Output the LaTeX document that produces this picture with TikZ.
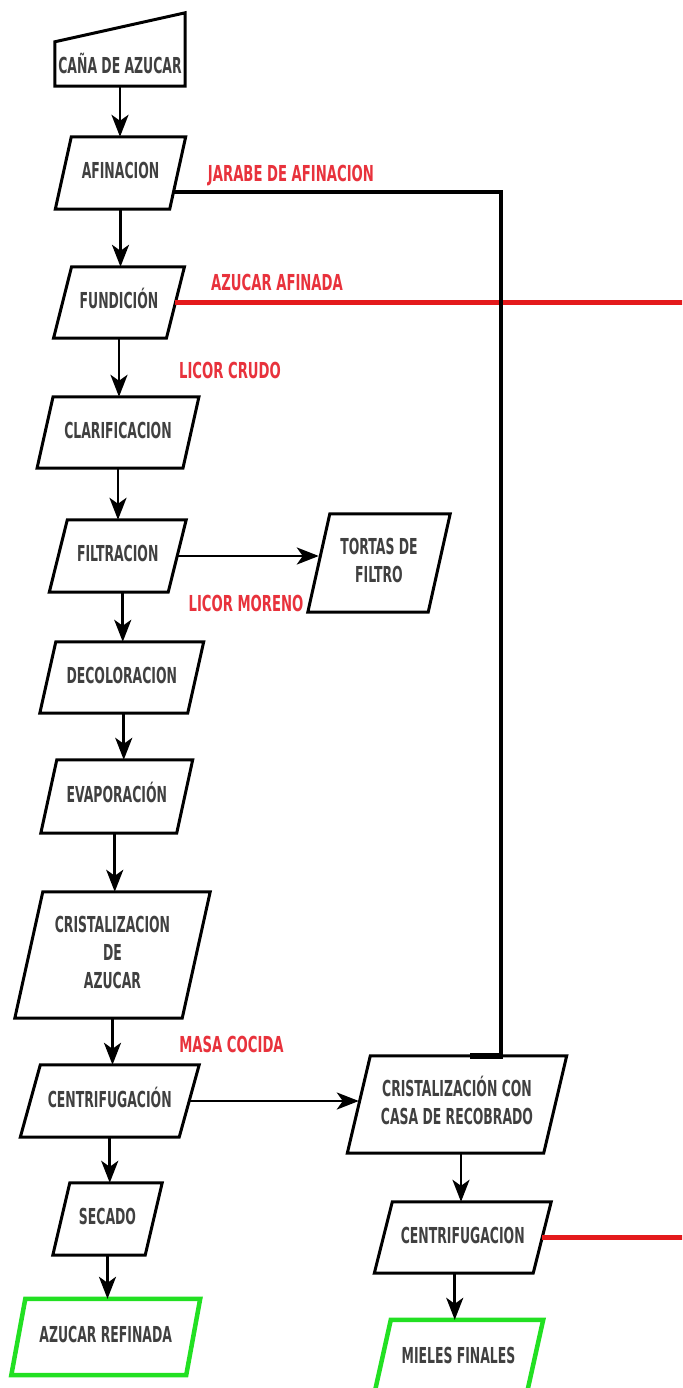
\documentclass[tikz,border=0pt]{standalone}
\usepackage{fontspec}
\setmainfont{DejaVu Sans}
\usetikzlibrary{arrows.meta,calc}

\definecolor{txtgray}{HTML}{404040}
\definecolor{lblred}{HTML}{E8323C}
\definecolor{linered}{HTML}{E41A1C}
\definecolor{outgreen}{HTML}{22E022}

% condensed, tall lettering used for every text in the chart
\newcommand\lbl[2][0.565]{\scalebox{#1}[1]{\begin{tabular}{@{}c@{}}#2\end{tabular}}}

\tikzset{
  boxfont/.style={font=\fontsize{22}{28}\selectfont\bfseries},
  boxline/.style={draw=black, line width=3pt, line join=miter},
  endline/.style={draw=outgreen, line width=4.5pt, line join=miter},
  flow/.style={draw=black, line width=2.8pt, -{Stealth[length=22pt,width=17pt,inset=6pt]}},
  feedline/.style={draw=black, line width=4.2pt},
  redline/.style={draw=linered, line width=5pt},
  redlbl/.style={boxfont, text=lblred, inner sep=0pt},
}

% #1 outline style, #2 name, #3 centre, #4 mid width, #5 height, #6 half slant, #7 text
\newcommand\procbox[7][boxline]{%
  \node[boxfont, text=txtgray, inner sep=0pt, minimum width=#4pt, minimum height=#5pt] (#2) at #3 {\lbl{#7}};
  \draw[#1] ([xshift=-#6pt]#2.south west) -- ([xshift=-#6pt]#2.south east)
    -- ([xshift=#6pt]#2.north east) -- ([xshift=#6pt]#2.north west) -- cycle;
}

\begin{document}
\begin{tikzpicture}[x=1pt, y=-1pt]
\useasboundingbox (0,0) rectangle (682,1388);
\fill[white] (0,0) rectangle (682,1388);
\clip (0,0) rectangle (682,1388);

% raw material (manual input)
\node[boxfont, text=txtgray, inner sep=0pt, minimum width=130pt, minimum height=38pt] (cana) at (120,67) {\lbl{CAÑA DE AZUCAR}};
\draw[boxline] (cana.south west) -- (cana.south east) -- ([yshift=35pt]cana.north east) -- ([yshift=6pt]cana.north west) -- cycle;

% main refining line
\procbox{afin}{(120.5,173)}{114}{72}{8}{AFINACION}
\procbox{fund}{(119,302.5)}{112.5}{71}{9}{FUNDICIÓN}
\procbox{clar}{(118,432.5)}{145.5}{71}{8}{CLARIFICACION}
\procbox{filt}{(117.75,556)}{118.5}{72}{9}{FILTRACION}
\procbox{tortas}{(379,563)}{120}{98}{11}{TORTAS DE\\FILTRO}
\procbox{decol}{(121.75,677.5)}{147.5}{71}{8}{DECOLORACION}
\procbox{evap}{(116.75,796.5)}{135.5}{73}{8}{EVAPORACIÓN}
\procbox{crist}{(112.5,955)}{167}{126}{14}{CRISTALIZACION\\DE\\AZUCAR}
\procbox{centa}{(109.75,1101)}{158.5}{72}{10}{CENTRIFUGACIÓN}
\procbox{secado}{(107.5,1219)}{92}{72}{8.5}{SECADO}
\procbox[endline]{refin}{(105.75,1337)}{174.5}{76}{7}{AZUCAR REFINADA}

% recovery line
\procbox{recob}{(457,1104.5)}{196}{97}{11.5}{CRISTALIZACIÓN CON\\CASA DE RECOBRADO}
\procbox{centb}{(462.75,1237.5)}{158.5}{71}{9}{CENTRIFUGACION}
\procbox[endline]{mieles}{(458.5,1358)}{152}{76}{8.5}{MIELES FINALES}

% vertical flow
\draw[flow] (cana.south) -- (cana.south |- afin.north);
\draw[flow] (afin.south) -- (afin.south |- fund.north);
\draw[flow] (fund.south) -- (fund.south |- clar.north);
\draw[flow] (clar.south) -- (clar.south |- filt.north);
\draw[flow] ([xshift=5pt]filt.south) -- ([xshift=5pt]filt.south |- decol.north);
\draw[flow] ([xshift=2pt]decol.south) -- ([xshift=2pt]decol.south |- evap.north);
\draw[flow] ([xshift=-2pt]evap.south) -- ([xshift=-2pt]evap.south |- crist.north);
\draw[flow] (crist.south) -- (crist.south |- centa.north);
\draw[flow] (centa.south) -- (centa.south |- secado.north);
\draw[flow] (secado.south) -- (secado.south |- refin.north);
\draw[flow] ([xshift=4pt]recob.south) -- ([xshift=4pt]recob.south |- centb.north);
\draw[flow] ([xshift=-8pt]centb.south) -- ([xshift=-8pt]centb.south |- mieles.north);

% side flows
\draw[flow] (filt.east) -- (filt.east -| tortas.west);
\draw[flow] (centa.east) -- (centa.east -| recob.west);

% red streams leaving to the right
\coordinate (rightedge) at (700,0);
\draw[redline] (fund.east) -- (fund.east -| rightedge);
\draw[redline] (centb.east) -- (centb.east -| rightedge);

% affination syrup to the recovery crystallisation
\coordinate (jtee) at (501,1056);
\draw[feedline] ([xshift=-4pt,yshift=-19pt]afin.east) -| (jtee);
\draw[draw=black, line width=6pt] ([xshift=-31pt]jtee) -- ([xshift=2pt]jtee);

% stream labels
\node[redlbl] (jarabe) at (291,176) {\lbl[0.6]{JARABE DE AFINACION}};
\node[redlbl] (afinada) at (277,285) {\lbl[0.6]{AZUCAR AFINADA}};
\node[redlbl] (crudo) at (230,373) {\lbl[0.6]{LICOR CRUDO}};
\node[redlbl] (moreno) at (246,606) {\lbl[0.6]{LICOR MORENO}};
\node[redlbl] (masa) at (231.5,1047) {\lbl[0.6]{MASA COCIDA}};
\end{tikzpicture}
\end{document}
